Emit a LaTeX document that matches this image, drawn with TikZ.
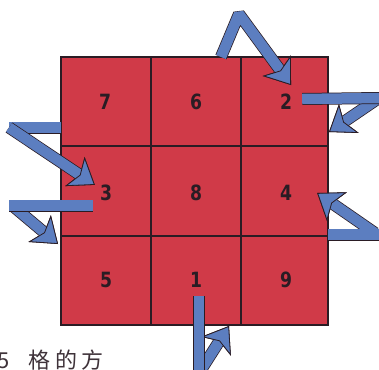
\documentclass[tikz,border=0pt]{standalone}
\usepackage{fontspec}
\setmainfont{Liberation Sans}
\newfontfamily\digitfont{DejaVu Sans}[FakeStretch=0.82]
\newfontfamily\cjkfont{Noto Sans CJK SC}
\usetikzlibrary{arrows.meta,calc}
\definecolor{cellred}{RGB}{208,58,72}
\definecolor{bandblue}{RGB}{92,126,192}
\definecolor{inkdark}{RGB}{42,28,36}
\tikzset{
  bandhead/.tip={Stealth[length=24pt,width=35pt,inset=6pt,line width=0.8pt,color=inkdark,fill=bandblue]},
  band/.style={draw=bandblue, line width=10.5pt, preaction={draw=inkdark, line width=12pt}},
  bandtip/.style={draw=bandblue, line width=10.5pt, -bandhead,
    preaction={draw=inkdark, line width=12pt, -bandhead}},
  gridline/.style={draw=inkdark, line width=1.1pt},
  digit/.style={font={\digitfont\bfseries\fontsize{21}{21}\selectfont}, text=inkdark, inner sep=0pt}
}
\begin{document}
\begin{tikzpicture}[x=1pt, y=-1pt]
  \clip (0,0) rectangle (379,369);
  \fill[white] (0,0) rectangle (379,369);
  % square of nine red cells
  \fill[cellred] (61,57) rectangle (328,325);
  \foreach \gx in {151,241} \draw[gridline] (\gx,57) -- (\gx,325);
  \foreach \gy in {146,236} \draw[gridline] (61,\gy) -- (328,\gy);
  \draw[gridline] (61,57) rectangle (328,325);
  % numbers in the cells
  \foreach \d/\cx/\cy in {7/105/102, 6/196/102, 2/286/102,
                          3/106/193, 8/196/193, 4/286/193,
                          5/106/280, 1/196/280, 9/286/280}
    \node[digit] (n\d) at (\cx,\cy) {\d};
  % turning points of the bands
  \coordinate (dropend) at (199,384);
  \coordinate (dropturn) at (199,373);
  \coordinate (droptip) at (229,326);
  \coordinate (gridtop) at (221,57);
  \coordinate (peak) at (239,14);
  \coordinate (rightend) at (381,98);
  \coordinate (rightturn) at (376,100);
  \coordinate (righttip) at (329,132);
  \coordinate (leftstart) at (61,127.5);
  \coordinate (leftturn) at (9,127.5);
  \coordinate (lowend) at (9,205.5);
  \coordinate (lowturn) at (14,207);
  \coordinate (lowtip) at (58,244);
  \coordinate (sidestart) at (328,234.5);
  \coordinate (sideend) at (381,234.5);
  \coordinate (sideturn) at (375,233);
  % 1 down and out
  \draw[bandtip] (dropturn) -- (droptip);
  \draw[band] ($(n1.south)+(3,8)$) -- (dropend);
  % over the top into 2
  \begin{scope}[line join=bevel]
    \draw[bandtip] (gridtop) -- (peak) -- ($(n2.north)+(5,-9)$);
  \end{scope}
  % 2 out to the right
  \draw[bandtip] (rightturn) -- (righttip);
  \draw[band] ($(n2.east)+(10,-3)$) -- (rightend);
  % in from the left into 3
  \draw[band] (leftstart) -- (leftturn);
  \draw[bandtip] (leftturn) -- ($(n3.north west)+(-5,0)$);
  % 3 out to the left
  \draw[bandtip] (lowturn) -- (lowtip);
  \draw[band] ($(n3.west)+(-7,12.5)$) -- (lowend);
  % in from the right into 4
  \draw[bandtip] (sideturn) -- ($(n4.east)+(25,0)$);
  \draw[band] (sidestart) -- (sideend);
  % cut-off text line below
  \node[anchor=base west, inner sep=0pt, text=inkdark!90,
        font={\cjkfont\fontsize{22}{22}\selectfont}] (caption) at (-3,368)
        {5\hspace{19pt}格\hspace{5pt}的\hspace{4pt}方};
\end{tikzpicture}
\end{document}
